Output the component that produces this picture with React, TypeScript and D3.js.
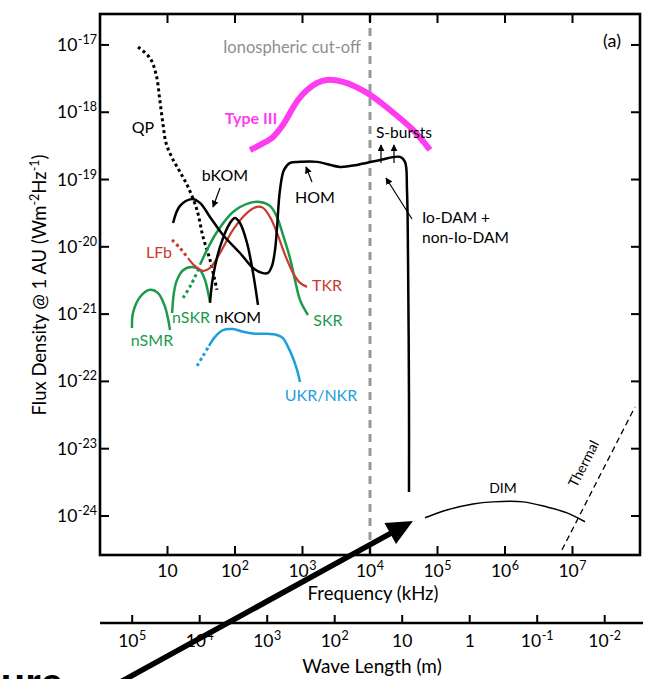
import React from 'react';
import * as d3 from 'd3';

// ---------- data (frequency in kHz, flux density in W m^-2 Hz^-1) ----------
const freqTicks = [10, 1e2, 1e3, 1e4, 1e5, 1e6, 1e7];
const freqTickExp = ['', '2', '3', '4', '5', '6', '7'];
const fluxTicks = [1e-17, 1e-18, 1e-19, 1e-20, 1e-21, 1e-22, 1e-23, 1e-24];
const fluxTickExp = ['-17', '-18', '-19', '-20', '-21', '-22', '-23', '-24'];
const waveTicks = [1e5, 1e4, 1e3, 1e2, 10, 1, 0.1, 0.01];
const waveTickBase = ['10', '10', '10', '10', '10', '1', '10', '10'];
const waveTickExp = ['5', '4', '3', '2', '', '', '-1', '-2'];
const cutoffFreq = 1e4;

const qp: [number, number][] = [
  [3.66, 9.3e-18], [5.5, 6.4e-18], [6.8, 3.6e-18], [7.7, 1.5e-18], [8.6, 6.5e-19],
  [9.5, 3.5e-19], [11.7, 2.1e-19], [15.3, 1.3e-19], [20.1, 7.8e-20], [27.4, 3.5e-20],
  [33.6, 1.4e-20], [42.6, 6.4e-21], [54, 2.3e-21],
];
const bkomHomDam: [number, number][] = [
  [12.1, 2.26e-20], [15.3, 4.06e-20], [23.1, 5.15e-20], [30.3, 4.5e-20], [42.6, 2.78e-20],
  [66.4, 1.5e-20], [118.6, 8.1e-21], [185, 4.85e-21], [251, 4.1e-21], [308, 4.1e-21],
  [353, 5.2e-21], [392, 9.0e-21], [419, 1.91e-20], [464, 7.0e-20], [532, 1.39e-19],
  [653, 1.77e-19], [918, 1.83e-19], [1640, 1.83e-19], [3600, 1.54e-19], [6410, 1.65e-19],
  [14060, 1.95e-19], [27800, 2.17e-19], [33000, 1.83e-19], [35300, 7.0e-20],
  [36600, 6.4e-21], [37800, 5.3e-23], [37800, 2.28e-24],
];
const nkom: [number, number][] = [
  [42.6, 1.47e-21], [47.2, 3.57e-21], [60, 1.0e-20], [84.3, 2.26e-20], [100, 2.69e-20],
  [118.6, 2.26e-20], [150.7, 1.14e-20], [185, 4.1e-21], [219, 1.37e-21],
];
const skr: [number, number][] = [
  [30.3, 5.4e-21], [38.5, 9.0e-21], [54, 1.66e-20], [93.3, 3.3e-20], [167, 4.5e-20],
  [234, 4.65e-20], [330, 4.06e-20], [419, 2.78e-20], [514, 1.5e-20], [653, 6.8e-21],
  [774, 3.2e-21], [918, 1.63e-21], [1205, 9.7e-22],
];
const skrExtension: [number, number][] = [[17, 1.74e-21], [22.3, 2.72e-21], [29.3, 4.85e-21]];
const lfb: [number, number][] = [[11.7, 1.27e-20], [15.3, 9.6e-21], [20.1, 6.8e-21]];
const tkr: [number, number][] = [
  [20.1, 6.8e-21], [25.5, 5.2e-21], [33.6, 4.4e-21], [42.6, 4.85e-21], [60, 8.1e-21],
  [93.3, 1.78e-20], [150.7, 3.19e-20], [212, 3.92e-20], [260, 3.79e-20], [330, 2.78e-20],
  [419, 1.61e-20], [551, 7.6e-21], [723, 4.1e-21], [918, 2.91e-21], [1167, 2.54e-21],
];
const nskr: [number, number][] = [
  [11.7, 1.04e-21], [12.5, 2.14e-21], [13.8, 3.2e-21], [17, 4.5e-21], [23.1, 5.0e-21],
  [30.3, 4.5e-21], [36, 3.2e-21], [39.8, 2.14e-21], [42.6, 1.52e-21],
];
const nsmr: [number, number][] = [
  [2.98, 6.2e-22], [3.08, 1.04e-21], [3.92, 1.8e-21], [5.5, 2.3e-21], [7.2, 2.07e-21],
  [9.2, 1.28e-21], [10.9, 5.8e-22],
];
const ukrExtension: [number, number][] = [[27.4, 1.7e-22], [33.6, 2.39e-22], [41.2, 3.37e-22]];
const ukr: [number, number][] = [
  [41.2, 3.37e-22], [50.6, 4.6e-22], [66.4, 5.8e-22], [93.3, 6.0e-22], [131.5, 5.45e-22],
  [198, 5.1e-22], [278, 5.1e-22], [419, 4.9e-22], [514, 4.4e-22], [610, 3.26e-22],
  [723, 2.23e-22], [830, 1.48e-22], [918, 9.8e-23],
];
const typeIII: [number, number][] = [
  [167, 2.75e-19], [251, 3.38e-19], [366, 4.3e-19], [514, 6.5e-19], [653, 9.8e-19],
  [857, 1.52e-18], [1167, 2.14e-18], [1640, 2.72e-18], [2306, 3.02e-18], [3980, 2.82e-18],
  [9030, 1.94e-18], [19770, 1.08e-18], [43350, 5.46e-19], [77450, 2.75e-19],
];
const dim: [number, number][] = [
  [65300, 9.4e-25], [138000, 1.23e-24], [336000, 1.51e-24], [664000, 1.62e-24],
  [1.85e6, 1.62e-24], [4.19e6, 1.36e-24], [8.3e6, 1.11e-24], [1.53e7, 8.2e-25],
];
const thermal: [number, number][] = [[6.98e6, 3.13e-25], [8.43e7, 4.18e-23]];

// ---------- layout ----------
const W = 657, H = 679;
const L = 100, R = 640, T = 14, B = 555;
const FONT = 'Lato, "Open Sans", "Noto Sans", sans-serif';
const GREEN = '#1b9a4b';
const RED = '#c93a2f';
const BLUE = '#1f9fda';
const MAGENTA = '#ff3df0';
const GREY = '#8f8f8f';

const x = d3.scaleLog().domain([1, 1e8]).range([L, R]);
const y = d3.scaleLog().domain([Math.pow(10, -24.58), Math.pow(10, -16.54)]).range([B, T]);
const xWave = d3.scaleLog().domain([3e5, 3e5 / 1e8]).range([L, R]);

const line = d3.line<[number, number]>()
  .x(d => x(d[0]))
  .y(d => y(d[1]))
  .curve(d3.curveCatmullRom.alpha(0.5));

function Sup({ base, exp, size = 17.5, supSize = 12.5, ...rest }: any) {
  return (
    <text fontFamily={FONT} fontSize={size} {...rest}>
      {base}
      {exp ? <tspan dy={-7} dx={0.5} fontSize={supSize}>{exp}</tspan> : null}
    </text>
  );
}

export default function App() {
  // big annotation arrow
  const tip = [413, 521];
  const dir = [0.876, -0.482];
  const headLen = 26, headHalf = 12;
  const base = [tip[0] - dir[0] * headLen, tip[1] - dir[1] * headLen];
  const perp = [-dir[1], dir[0]];
  const start = [tip[0] - dir[0] * 380, tip[1] - dir[1] * 380];

  const lbl = { fontFamily: FONT, fontSize: 16 };

  return (
    <svg width={W} height={H} style={{ position: 'absolute', left: 0, top: 0, background: '#fff' }}>
      <defs>
        <marker id="ah" viewBox="0 0 10 10" refX="9" refY="5" markerWidth="7" markerHeight="7"
          markerUnits="userSpaceOnUse" orient="auto">
          <path d="M0,0 L10,5 L0,10 Z" fill="#000" />
        </marker>
      </defs>
      <rect x={0} y={0} width={W} height={H} fill="#fff" />

      {/* cut-off line */}
      <line x1={x(cutoffFreq)} x2={x(cutoffFreq)} y1={T} y2={B} stroke="#999" strokeWidth={3} strokeDasharray="8 6" />
      <text x={223} y={53} fontFamily={FONT} fontSize={16.5} fill={GREY}>Ionospheric cut-off</text>

      {/* curves */}
      <path d={line(typeIII) || ''} fill="none" stroke={MAGENTA} strokeWidth={6} />
      <path d={line(qp) || ''} fill="none" stroke="#000" strokeWidth={3} strokeDasharray="3 3" />
      <path d={line(nsmr) || ''} fill="none" stroke={GREEN} strokeWidth={2.5} />
      <path d={line(nskr) || ''} fill="none" stroke={GREEN} strokeWidth={2.5} />
      <path d={line(skrExtension) || ''} fill="none" stroke={GREEN} strokeWidth={3} strokeDasharray="3 3" />
      <path d={line(skr) || ''} fill="none" stroke={GREEN} strokeWidth={2.5} />
      <path d={line(lfb) || ''} fill="none" stroke={RED} strokeWidth={3} strokeDasharray="3 3" />
      <path d={line(tkr) || ''} fill="none" stroke={RED} strokeWidth={2.2} />
      <path d={line(ukrExtension) || ''} fill="none" stroke={BLUE} strokeWidth={3} strokeDasharray="3 3" />
      <path d={line(ukr) || ''} fill="none" stroke={BLUE} strokeWidth={2.5} />
      <path d={line(nkom) || ''} fill="none" stroke="#000" strokeWidth={2.5} />
      <path d={line(bkomHomDam) || ''} fill="none" stroke="#000" strokeWidth={2.5} />
      <path d={line(dim) || ''} fill="none" stroke="#000" strokeWidth={1.5} />
      <path d={line(thermal) || ''} fill="none" stroke="#000" strokeWidth={1.3} strokeDasharray="6 4" />

      {/* labels */}
      <text x={251} y={124} textAnchor="middle" fontFamily={FONT} fontSize={16} fontWeight="bold" fill={MAGENTA}>Type III</text>
      <text x={143} y={133} textAnchor="middle" {...lbl}>QP</text>
      <text x={225} y={181} textAnchor="middle" {...lbl}>bKOM</text>
      <text x={315} y={203} textAnchor="middle" {...lbl}>HOM</text>
      <text x={159} y={258} textAnchor="middle" {...lbl} fill={RED}>LFb</text>
      <text x={327} y={291} textAnchor="middle" {...lbl} fill={RED}>TKR</text>
      <text x={328} y={326} textAnchor="middle" {...lbl} fill={GREEN}>SKR</text>
      <text x={191} y={323} textAnchor="middle" {...lbl} fill={GREEN}>nSKR</text>
      <text x={238} y={323} textAnchor="middle" {...lbl}>nKOM</text>
      <text x={152} y={346} textAnchor="middle" {...lbl} fill={GREEN}>nSMR</text>
      <text x={321} y={401} textAnchor="middle" {...lbl} fill={BLUE}>UKR/NKR</text>
      <text x={404} y={138} textAnchor="middle" fontFamily={FONT} fontSize={15.5}>S-bursts</text>
      <text x={422} y={223} fontFamily={FONT} fontSize={15.5}>Io-DAM +</text>
      <text x={422} y={243} fontFamily={FONT} fontSize={15.5}>non-Io-DAM</text>
      <text x={503} y={493} textAnchor="middle" fontFamily={FONT} fontSize={14}>DIM</text>
      <text x={0} y={0} textAnchor="middle" fontFamily={FONT} fontSize={14}
        transform="translate(588,466) rotate(-63)">Thermal</text>
      <text x={612} y={47} textAnchor="middle" fontFamily={FONT} fontSize={18}>(a)</text>

      {/* small arrows */}
      <line x1={220} y1={188} x2={213} y2={207} stroke="#000" strokeWidth={1.2} markerEnd="url(#ah)" />
      <line x1={312} y1={182} x2={306} y2={167} stroke="#000" strokeWidth={1.2} markerEnd="url(#ah)" />
      <line x1={381} y1={163} x2={381} y2={145} stroke="#000" strokeWidth={1.2} markerEnd="url(#ah)" />
      <line x1={394} y1={163} x2={394} y2={145} stroke="#000" strokeWidth={1.2} markerEnd="url(#ah)" />
      <line x1={412} y1={219} x2={386} y2={178} stroke="#000" strokeWidth={1.2} markerEnd="url(#ah)" />

      {/* frame */}
      <rect x={L} y={T} width={R - L} height={B - T} fill="none" stroke="#000" strokeWidth={2.6} />
      {freqTicks.map((f, i) => (
        <g key={'xt' + i}>
          <line x1={x(f)} x2={x(f)} y1={T} y2={T + 9} stroke="#000" strokeWidth={2} />
          <line x1={x(f)} x2={x(f)} y1={B} y2={B - 9} stroke="#000" strokeWidth={2} />
          <Sup base="10" exp={freqTickExp[i]} x={x(f)} y={577} textAnchor="middle" />
        </g>
      ))}
      {fluxTicks.map((s, i) => (
        <g key={'yt' + i}>
          <line x1={L} x2={L + 9} y1={y(s)} y2={y(s)} stroke="#000" strokeWidth={2} />
          <line x1={R} x2={R - 9} y1={y(s)} y2={y(s)} stroke="#000" strokeWidth={2} />
          <Sup base="10" exp={fluxTickExp[i]} x={97} y={y(s) + 6} textAnchor="end" />
        </g>
      ))}
      <text x={373} y={600} textAnchor="middle" fontFamily={FONT} fontSize={18.5}>Frequency (kHz)</text>
      <text transform="translate(46,285) rotate(-90)" textAnchor="middle" fontFamily={FONT} fontSize={18.5}>
        Flux Density @ 1 AU (Wm<tspan dy={-7} fontSize={12.5}>-2</tspan><tspan dy={7}>Hz</tspan><tspan dy={-7} fontSize={12.5}>-1</tspan><tspan dy={7}>)</tspan>
      </text>

      {/* wavelength axis */}
      <line x1={L} x2={R + 3} y1={623} y2={623} stroke="#000" strokeWidth={2.5} />
      {waveTicks.map((w, i) => (
        <g key={'wt' + i}>
          <line x1={xWave(w)} x2={xWave(w)} y1={623} y2={615} stroke="#000" strokeWidth={2} />
          <Sup base={waveTickBase[i]} exp={waveTickExp[i]} x={xWave(w)} y={647} textAnchor="middle" />
        </g>
      ))}
      <text x={372} y={673} textAnchor="middle" fontFamily={FONT} fontSize={19}>Wave Length (m)</text>

      {/* overlaid pointer arrow and cropped caption */}
      <line x1={start[0]} y1={start[1]} x2={base[0] + dir[0] * 2} y2={base[1] + dir[1] * 2} stroke="#000" strokeWidth={5.5} />
      <polygon
        points={`${tip[0]},${tip[1]} ${base[0] + perp[0] * headHalf},${base[1] + perp[1] * headHalf} ${base[0] - perp[0] * headHalf},${base[1] - perp[1] * headHalf}`}
        fill="#000" />
      <text x={63} y={697} textAnchor="end" fontFamily='"Liberation Sans", Arial, sans-serif' fontWeight="bold" fontSize={40}>Figure</text>
    </svg>
  );
}
